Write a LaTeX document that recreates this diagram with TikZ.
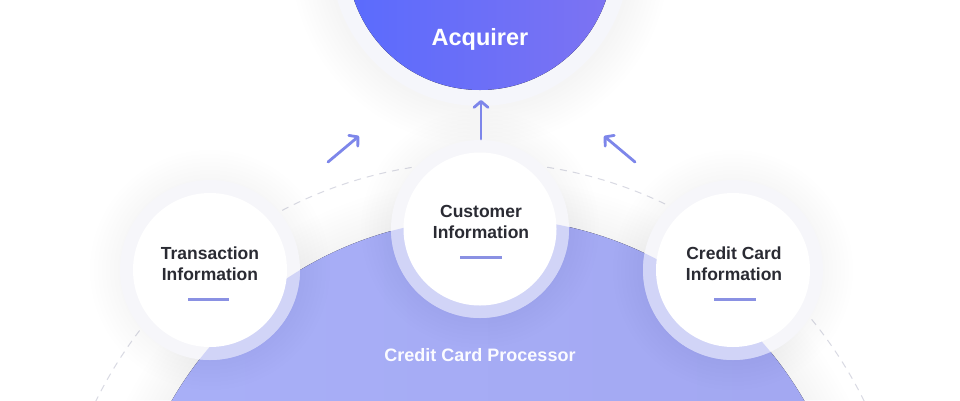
\documentclass[tikz,border=0pt]{standalone}
\usepackage{fontspec}
\setmainfont{Liberation Sans}
\usetikzlibrary{arrows.meta}
\definecolor{acqL}{HTML}{5A6BFD}
\definecolor{acqR}{HTML}{7D73F2}
\definecolor{procL}{HTML}{A9B0F8}
\definecolor{procR}{HTML}{A2A7F1}
\definecolor{procM}{HTML}{A6ACF5}
\definecolor{arrowc}{HTML}{7D86EA}
\definecolor{barc}{HTML}{8A91E3}
\definecolor{txt}{HTML}{2A2B33}
\definecolor{dashc}{HTML}{D9DAE3}
\definecolor{shadowc}{HTML}{6A70A8}
\definecolor{acqring}{HTML}{F5F6FB}
\definecolor{ringc}{HTML}{F6F6FA}
\newcommand\myglow[3]{\foreach \k in {1,...,10}{\fill[shadowc,opacity=0.0032] (#1,#2) circle[radius=#3pt+\k*4pt];}}
\newcommand\procpath{(488,583) circle[radius=365pt]}
\begin{document}
\begin{tikzpicture}[x=1pt,y=-1pt,
  flow/.style={arrowc, line width=2.8pt, line cap=round, -{Straight Barb[length=6pt,width=14pt,line cap=round,line join=round]}},
  bar/.style={barc, line width=3pt},
  lbl/.style={font=\fontsize{17.5}{21}\selectfont\bfseries, text=txt, inner sep=0pt, anchor=base},
  ring/.style={circle, fill=ringc, inner sep=0pt, minimum size=180pt},
  disc/.style={circle, fill=white, inner sep=0pt, minimum size=154pt},
  ]
\useasboundingbox (0,0) rectangle (960,400);
\clip (0,0) rectangle (960,400);
\fill[white] (0,0) rectangle (960,400);
% dashed orbit
\draw[dashc, line width=1pt, dash pattern=on 7pt off 6pt] (480,590) circle[radius=428pt];
% processor
\myglow{488}{583}{365}
\fill[left color=procL, right color=procR] \procpath;
% acquirer
\myglow{480}{-43}{149}
\fill[acqring] (480,-43) circle[radius=149pt];
\fill[left color=acqL, right color=acqR] (480,-43) circle[radius=133pt];
\node[font=\fontsize{23.5}{26}\selectfont\bfseries, text=white, inner sep=0pt, anchor=base] (acq) at (480,45) {Acquirer};
% small circles
\myglow{210}{270}{80}
\myglow{480}{229}{79}
\myglow{733}{270}{80}
\node[ring] (txring) at (210,270) {};
\node[ring, minimum size=178pt] (cuRing) at (480,229) {};
\node[ring] (ccring) at (733,270) {};
\begin{scope}
  \clip \procpath;
  \fill[procM, opacity=0.45] (210,270) circle[radius=90pt];
  \fill[procM, opacity=0.45] (480,229) circle[radius=89pt];
  \fill[procM, opacity=0.45] (733,270) circle[radius=90pt];
\end{scope}
\node[disc] (tx) at (210,270) {};
\node[disc, minimum size=153pt] (cu) at (480,229) {};
\node[disc] (cc) at (733,270) {};
% labels
\node[lbl] (tx1) at (210,259) {Transaction};
\node[lbl] (tx2) at (210,280) {Information};
\node[lbl] (cu1) at (481,217) {Customer};
\node[lbl] (cu2) at (481,238) {Information};
\node[lbl] (cc1) at (734,259) {Credit Card};
\node[lbl] (cc2) at (734,280) {Information};
\draw[bar] (188,299) -- (229,299);
\draw[bar] (460,257) -- (502,257);
\draw[bar] (714,299) -- (756,299);
\node[font=\fontsize{18}{21}\selectfont\bfseries, text=white!95!procL, inner sep=0pt, anchor=base] (ptxt) at (480,361) {Credit Card Processor};
% arrows
\coordinate (a1s) at (328,162);
\coordinate (a1e) at (359,136);
\coordinate (a2s) at (481,139);
\coordinate (a2e) at (481,100);
\coordinate (a3s) at (635,162);
\coordinate (a3e) at (604,136);
\draw[flow] (a1s) -- (a1e);
\draw[flow] (a2s) -- (a2e);
\draw[flow] (a3s) -- (a3e);
\end{tikzpicture}
\end{document}
